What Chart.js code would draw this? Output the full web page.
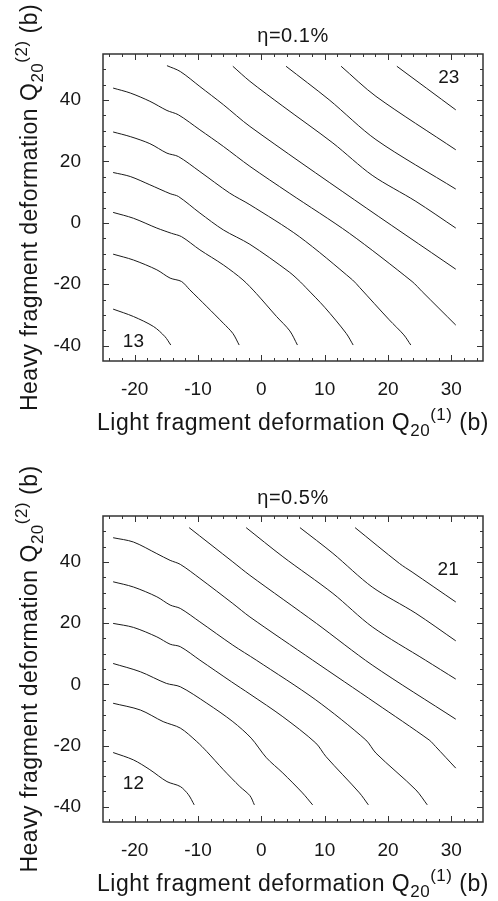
<!DOCTYPE html>
<html>
<head>
<meta charset="utf-8">
<script src="https://cdn.jsdelivr.net/npm/chart.js@4"></script>
<style>
  body { margin: 0; background: #fff; }
  canvas { display: block; }
</style>
</head>
<body>
<canvas id="etaLow" width="498" height="450"></canvas>
<canvas id="etaHigh" width="498" height="451"></canvas>
<script>
// contour levels for the two panels
const levelsLow = [13, 14, 15, 16, 17, 18, 19, 20, 21, 22, 23];
const levelsHigh = [12, 13, 14, 15, 16, 17, 18, 19, 20, 21];

// one polyline per level, points are [Q20(1), Q20(2)] in barn
const contoursLow = [
  [[-23.4, -28.1], [-20.2, -30.5], [-17.0, -33.8], [-15.2, -37.1], [-14.3, -39.8]],
  [[-23.4, -10.2], [-20.2, -12.1], [-16.5, -15.3], [-14.4, -18.0], [-12.6, -19.1], [-11.3, -21.8], [-8.6, -27.3], [-6.0, -32.7], [-4.5, -36.0], [-3.5, -39.8]],
  [[-23.4, 3.4], [-20.2, 1.5], [-16.5, -1.7], [-14.2, -3.4], [-12.6, -4.5], [-9.7, -8.8], [-6.0, -13.7], [-2.9, -18.6], [-0.8, -23.0], [2.4, -30.5], [4.5, -35.2], [5.7, -39.8]],
  [[-23.4, 16.4], [-20.7, 15.1], [-17.6, 12.4], [-14.4, 9.5], [-13.1, 8.6], [-9.7, 3.2], [-6.0, -2.3], [-1.8, -7.0], [4.4, -16.0], [6.2, -19.3], [7.0, -21.0], [10.0, -27.5], [13.4, -36.0], [14.5, -39.8]],
  [[-23.4, 29.6], [-20.7, 28.1], [-17.6, 25.8], [-14.9, 22.7], [-13.1, 21.6], [-9.7, 16.7], [-5.0, 9.7], [-1.8, 5.9], [6.0, -4.5], [14.4, -18.6], [15.5, -21.0], [20.2, -31.6], [22.5, -36.5], [23.6, -39.8]],
  [[-23.4, 43.9], [-20.7, 42.3], [-17.6, 39.6], [-14.9, 36.6], [-13.1, 35.2], [-9.7, 30.3], [-6.0, 24.9], [-1.8, 18.4], [4.4, 9.7], [13.9, -3.4], [23.8, -19.1], [25.4, -22.4], [30.7, -33.3]],
  [[-14.9, 51.2], [-12.8, 49.3], [-9.7, 44.4], [-6.0, 38.5], [-1.8, 31.4], [14.7, 7.5], [30.7, -15.1]],
  [[-4.5, 51.0], [-1.8, 46.1], [3.4, 38.0], [11.3, 26.0], [17.5, 15.5], [24.4, 7.0], [30.7, -1.7]],
  [[3.9, 51.0], [10.7, 40.1], [18.1, 27.1], [30.7, 11.0]],
  [[12.6, 51.0], [18.1, 41.2], [30.7, 23.8]],
  [[21.4, 51.0], [30.7, 36.8]]
];

const contoursHigh = [
  [[-23.4, -22.3], [-20.2, -24.7], [-17.6, -27.9], [-14.9, -31.8], [-12.8, -33.4], [-11.5, -36.1], [-10.6, -39.4]],
  [[-23.4, -6.2], [-19.1, -8.4], [-15.5, -12.2], [-12.8, -14.3], [-10.2, -18.7], [-8.6, -22.0], [-6.0, -27.9], [-3.4, -33.4], [-1.8, -36.4], [-1.1, -39.4]],
  [[-23.4, 6.8], [-19.1, 4.1], [-15.0, 0.3], [-12.8, -0.8], [-8.6, -6.2], [-4.5, -12.2], [-1.6, -17.6], [0.8, -24.0], [3.4, -29.0], [6.5, -35.5], [8.1, -39.4]],
  [[-23.4, 19.9], [-20.2, 18.6], [-16.5, 15.5], [-14.4, 13.1], [-12.8, 12.3], [-9.7, 7.9], [-4.7, 0.8], [-1.8, -3.2], [3.4, -10.6], [8.6, -19.2], [10.2, -23.6], [15.5, -35.5], [16.9, -39.4]],
  [[-23.4, 33.5], [-20.2, 31.8], [-16.5, 28.6], [-14.4, 25.9], [-12.8, 24.8], [-9.7, 20.4], [-4.5, 12.8], [-0.8, 7.9], [8.6, -5.1], [16.5, -18.2], [18.1, -22.5], [24.4, -34.5], [26.2, -39.4]],
  [[-23.4, 47.9], [-20.2, 46.5], [-16.5, 42.7], [-14.4, 40.5], [-12.8, 39.2], [-9.7, 34.6], [-4.5, 26.4], [-1.8, 22.0], [8.1, 7.9], [18.1, -6.2], [26.5, -18.2], [27.5, -20.3], [30.7, -27.4]],
  [[-11.4, 51.2], [-4.5, 40.0], [-1.8, 35.6], [8.7, 19.9], [17.5, 6.3], [30.7, -11.4]],
  [[-2.4, 51.2], [3.4, 41.7], [11.3, 29.7], [17.5, 18.8], [25.9, 7.9], [30.7, 1.7]],
  [[6.1, 51.2], [11.3, 42.8], [17.5, 31.8], [24.4, 23.2], [30.7, 14.2]],
  [[14.8, 51.2], [21.8, 39.5], [23.8, 36.7], [30.7, 26.9]]
];

const q1Ticks = [-20, -10, 0, 10, 20, 30];
const q2Ticks = [-40, -20, 0, 20, 40];
const q1Range = [-25, 35];
const q2Range = [-45, 55];

// level written beside the first and last contour: [level, Q20(1), Q20(2)]
const tagsLow = [[levelsLow[0], -20.2, -38.7], [levelsLow[levelsLow.length - 1], 29.6, 47.2]];
const tagsHigh = [[levelsHigh[0], -20.2, -32.6], [levelsHigh[levelsHigh.length - 1], 29.5, 37.5]];

const FONT = '"Liberation Sans", Arial, Helvetica, sans-serif';
const INK = '#161616';

// draw a run of text pieces (normal / sub / sup) centred on x
function drawRich(ctx, parts, x, y) {
  let w = 0;
  parts.forEach(p => { ctx.font = p[1] + 'px ' + FONT; w += ctx.measureText(p[0]).width; });
  let cx = x - w / 2;
  parts.forEach(p => {
    ctx.font = p[1] + 'px ' + FONT;
    ctx.fillText(p[0], cx, y + p[2]);
    cx += ctx.measureText(p[0]).width;
  });
}

// frame, inward ticks on all sides, titles and level tags
const framePlugin = {
  id: 'frame',
  afterDraw(chart, args, opts) {
    const { ctx, chartArea: a } = chart;
    const x = chart.scales.x, y = chart.scales.y;
    ctx.save();
    ctx.strokeStyle = '#333';
    ctx.lineWidth = 1.5;
    ctx.strokeRect(a.left, a.top, a.right - a.left, a.bottom - a.top);

    ctx.lineWidth = 1;
    ctx.beginPath();
    for (let v = Math.ceil(x.min / 2) * 2; v < x.max; v += 2) {
      if (v <= x.min) continue;
      const px = Math.round(x.getPixelForValue(v)) + 0.5;
      const len = v % 10 === 0 ? 6 : 3;
      ctx.moveTo(px, a.bottom); ctx.lineTo(px, a.bottom - len);
      ctx.moveTo(px, a.top); ctx.lineTo(px, a.top + len);
    }
    for (let v = Math.ceil(y.min / 5) * 5; v < y.max; v += 5) {
      if (v <= y.min) continue;
      const py = Math.round(y.getPixelForValue(v)) + 0.5;
      const len = v % 20 === 0 ? 6 : 3;
      ctx.moveTo(a.left, py); ctx.lineTo(a.left + len, py);
      ctx.moveTo(a.right, py); ctx.lineTo(a.right - len, py);
    }
    ctx.stroke();

    ctx.fillStyle = INK;
    ctx.textBaseline = 'alphabetic';
    ctx.textAlign = 'left';
    const midX = (a.left + a.right) / 2;
    const midY = (a.top + a.bottom) / 2;

    // panel title
    ctx.letterSpacing = '0.5px';
    drawRich(ctx, [[opts.title, 20, 0]], midX, a.top - 12);

    // axis titles
    drawRich(ctx, [['Light fragment deformation Q', 23, 0], ['20', 17, 6], ['(1)', 17, -10], [' (b)', 23, 0]], midX, a.bottom + 69);
    ctx.save();
    ctx.translate(37, midY);
    ctx.rotate(-Math.PI / 2);
    drawRich(ctx, [['Heavy fragment deformation Q', 23, 0], ['20', 17, 6], ['(2)', 17, -10], [' (b)', 23, 0]], 0, 0);
    ctx.restore();
    ctx.letterSpacing = '0px';

    // level tags
    ctx.font = '19px ' + FONT;
    ctx.textAlign = 'center';
    ctx.textBaseline = 'middle';
    opts.tags.forEach(t => {
      ctx.fillText(String(t[0]), x.getPixelForValue(t[1]), y.getPixelForValue(t[2]));
    });
    ctx.restore();
  }
};

function makePanel(id, contours, tags, title, areaTop, xHeight) {
  const datasets = contours.map(line => ({
    data: line.map(p => ({ x: p[0], y: p[1] })),
    showLine: true,
    borderColor: '#1a1a1a',
    borderWidth: 1,
    pointRadius: 0,
    tension: 0.3,
    fill: false
  }));
  return new Chart(document.getElementById(id), {
    type: 'scatter',
    data: { datasets },
    plugins: [framePlugin],
    options: {
      responsive: false,
      devicePixelRatio: 1,
      animation: false,
      events: [],
      layout: { padding: { top: areaTop, left: 0, right: 15, bottom: 0 } },
      plugins: {
        legend: { display: false },
        tooltip: { enabled: false },
        frame: { title, tags }
      },
      scales: {
        x: {
          type: 'linear',
          min: q1Range[0],
          max: q1Range[1],
          grid: { display: false },
          border: { display: false },
          afterBuildTicks: s => { s.ticks = q1Ticks.map(v => ({ value: v })); },
          afterFit: s => { s.height = xHeight; },
          ticks: { color: INK, font: { family: FONT, size: 19 }, padding: 9, maxRotation: 0 }
        },
        y: {
          type: 'linear',
          min: q2Range[0],
          max: q2Range[1],
          grid: { display: false },
          border: { display: false },
          afterBuildTicks: s => { s.ticks = q2Ticks.map(v => ({ value: v })); },
          afterFit: s => { s.width = 103; },
          ticks: { color: INK, font: { family: FONT, size: 19 }, padding: 14 }
        }
      }
    }
  });
}

makePanel('etaLow', contoursLow, tagsLow, 'η=0.1%', 54, 89);
makePanel('etaHigh', contoursHigh, tagsHigh, 'η=0.5%', 66, 79);
</script>
</body>
</html>
